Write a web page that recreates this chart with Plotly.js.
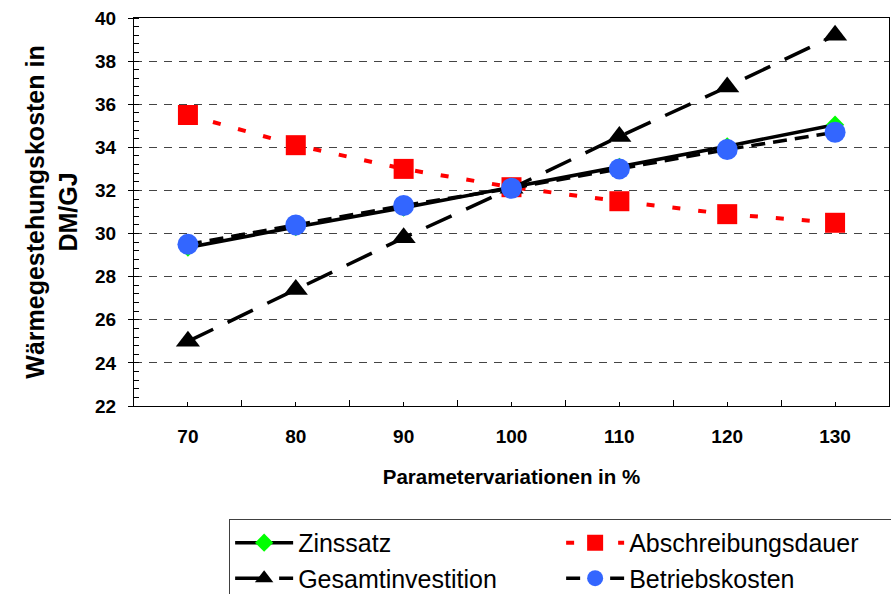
<!DOCTYPE html>
<html>
<head>
<meta charset="utf-8">
<script src="https://cdn.plot.ly/plotly-3.0.1.min.js"></script>
<style>
  html, body { margin: 0; padding: 0; background: #fff; }
  #chart { width: 891px; height: 594px; }
</style>
</head>
<body>
<div id="chart"></div>
<script>
// ---- data ----
const parameterPct = [70, 80, 90, 100, 110, 120, 130];
const zinssatz = [29.35, 30.3, 31.2, 32.15, 33.1, 34.05, 35.05];
const abschreibungsdauer = [35.5, 34.1, 33.0, 32.15, 31.5, 30.9, 30.5];
const gesamtinvestition = [25.0, 27.4, 29.8, 32.1, 34.5, 36.8, 39.2];
const betriebskosten = [29.5, 30.4, 31.3, 32.1, 33.0, 33.9, 34.7];
const seriesNames = ["Zinssatz", "Abschreibungsdauer", "Gesamtinvestition", "Betriebskosten"];
const xTickLabels = ["70", "80", "90", "100", "110", "120", "130"];
const yTickValues = [22, 24, 26, 28, 30, 32, 34, 36, 38, 40];

const FONT = "Liberation Sans, Arial, sans-serif";

const traces = [
  {
    x: parameterPct, y: zinssatz, name: seriesNames[0], type: "scatter", mode: "lines+markers",
    line: { color: "#000000", width: 3.5 },
    marker: { symbol: "diamond", size: 14, color: "#00ff00" }
  },
  {
    x: parameterPct, y: abschreibungsdauer, name: seriesNames[1], type: "scatter", mode: "lines+markers",
    line: { color: "#ff0000", width: 4, dash: "8px,18px" },
    marker: { symbol: "square", size: 20, color: "#ff0000" }
  },
  {
    x: parameterPct, y: gesamtinvestition, name: seriesNames[2], type: "scatter", mode: "lines+markers",
    line: { color: "#000000", width: 3.5, dash: "28px,16px" },
    marker: { symbol: "triangle-up", size: 21, color: "#000000" }
  },
  {
    x: parameterPct, y: betriebskosten, name: seriesNames[3], type: "scatter", mode: "lines+markers",
    line: { color: "#000000", width: 3.5, dash: "14px,8px" },
    marker: { symbol: "circle", size: 21, color: "#3366ff" }
  }
];

const layout = {
  width: 891, height: 594,
  margin: { l: 134, r: 2, t: 18, b: 188, autoexpand: false },
  paper_bgcolor: "#ffffff", plot_bgcolor: "#ffffff",
  font: { family: FONT, color: "#000000" },
  showlegend: true,
  xaxis: {
    range: [65, 135],
    tickvals: parameterPct,
    ticktext: xTickLabels,
    ticks: "inside", ticklen: 4, tickcolor: "#000", tickwidth: 1,
    minor: { tick0: 65, dtick: 10, ticks: "inside", ticklen: 6, tickcolor: "#000" },
    showgrid: false, zeroline: false,
    showline: true, linecolor: "#000", linewidth: 1, mirror: true,
    tickfont: { family: FONT, size: 19, color: "#000", weight: "bold" },
    ticklabelstandoff: 13,
    title: { text: "<b>Parametervariationen in %</b>", font: { family: FONT, size: 20.5, color: "#000" }, standoff: 23 },
    automargin: false
  },
  yaxis: {
    range: [22, 40],
    tickvals: yTickValues,
    ticks: "outside", ticklen: 5, tickcolor: "#000",
    minor: { dtick: 0.4, tick0: 22, ticks: "inside", ticklen: 5, tickcolor: "#000", showgrid: false },
    showgrid: true, gridcolor: "#444444", gridwidth: 1, griddash: "8px,7px",
    zeroline: false,
    showline: true, linecolor: "#000", linewidth: 1, mirror: true,
    tickfont: { family: FONT, size: 19, color: "#000", weight: "bold" },
    ticklabelstandoff: 8,
    title: { text: "<b>Wärmegestehungskosten in<br>DM/GJ</b>", font: { family: FONT, size: 25, color: "#000" }, standoff: 10 },
    automargin: false
  },
  legend: {
    orientation: "h",
    x: 0.126, y: -0.291, xanchor: "left", yanchor: "top",
    bordercolor: "#404040", borderwidth: 1, bgcolor: "#ffffff",
    font: { family: FONT, size: 25, color: "#000" },
    entrywidth: 258, entrywidthmode: "pixels",
    itemwidth: 58,
    traceorder: "normal"
  }
};

Plotly.newPlot("chart", traces, layout, { displayModeBar: false, staticPlot: true });
</script>
</body>
</html>
